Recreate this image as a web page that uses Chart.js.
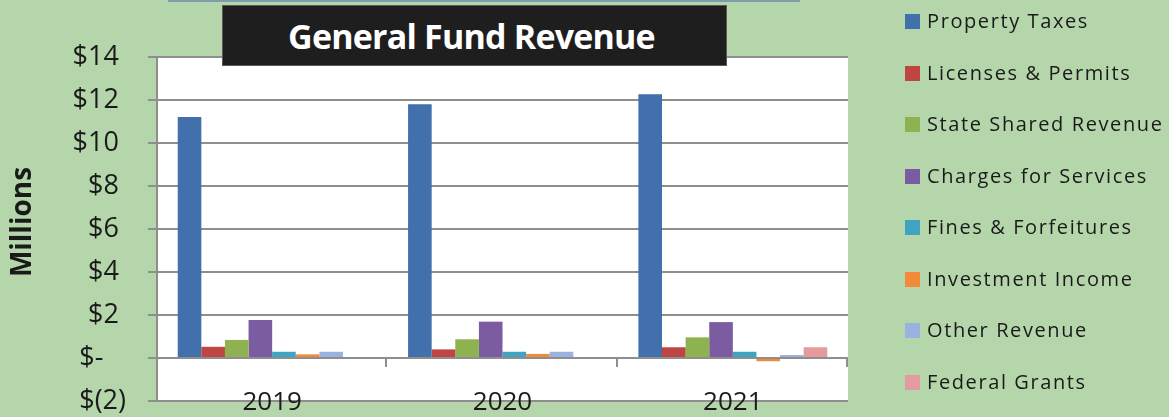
<!DOCTYPE html>
<html>
<head>
<meta charset="utf-8">
<title>General Fund Revenue</title>
<script src="https://cdn.jsdelivr.net/npm/chart.js@4/dist/chart.umd.min.js"></script>
<style>
  html, body {
    margin: 0;
    padding: 0;
    background: #b4d6aa;
    overflow: hidden;
  }
  #wrap {
    position: relative;
    width: 1169px;
    height: 417px;
  }
  #revenueChart {
    display: block;
  }
  #topRule {
    position: absolute;
    left: 168px;
    top: 0;
    width: 632px;
    height: 2px;
    background: #7f9cab;
  }
  #titleBox {
    position: absolute;
    left: 222px;
    top: 5px;
    width: 503px;
    height: 59px;
    background: #1e1e1e;
    border: 1px solid #5a5a5a;
    color: #ffffff;
    font-family: "Open Sans", sans-serif;
    font-weight: bold;
    font-size: 34px;
    letter-spacing: -0.8px;
    line-height: 60px;
    text-align: center;
    text-indent: -6px;
  }
  #legend {
    position: absolute;
    left: 905px;
    top: 0;
    margin: 0;
    padding: 0;
    list-style: none;
    font-family: "Open Sans", sans-serif;
    font-size: 20px;
    letter-spacing: 1.6px;
    color: #1a1a1a;
  }
  #legend li {
    position: absolute;
    left: 0;
    height: 22px;
    line-height: 22px;
    white-space: nowrap;
  }
  #legend span.box {
    position: absolute;
    left: 0;
    top: 4px;
    width: 15px;
    height: 15px;
  }
  #legend span.txt {
    position: absolute;
    left: 22px;
    top: 0;
  }
</style>
</head>
<body>
<div id="wrap">
  <div id="topRule"></div>
  <canvas id="revenueChart" width="1169" height="417"></canvas>
  <div id="titleBox">General Fund Revenue</div>
  <ul id="legend"></ul>
</div>
<script>
  'use strict';

  // Fiscal years on the category axis
  const years = ['2019', '2020', '2021'];

  // Revenue sources, in millions of dollars
  const seriesNames = [
    'Property Taxes',
    'Licenses & Permits',
    'State Shared Revenue',
    'Charges for Services',
    'Fines & Forfeitures',
    'Investment Income',
    'Other Revenue',
    'Federal Grants'
  ];
  const propertyTaxes = [11.21, 11.80, 12.27];
  const licensesPermits = [0.52, 0.40, 0.50];
  const stateShared = [0.84, 0.87, 0.96];
  const chargesServices = [1.77, 1.69, 1.67];
  const finesForfeitures = [0.29, 0.29, 0.29];
  const investmentIncome = [0.17, 0.19, -0.15];
  const otherRevenue = [0.29, 0.29, 0.14];
  const federalGrants = [0, 0, 0.50];

  const seriesColors = [
    '#4170ac',
    '#be4542',
    '#8db24f',
    '#7b5ca0',
    '#3fa3c1',
    '#f38a3a',
    '#9ab2e0',
    '#e49b9e'
  ];

  // Value axis ticks (millions)
  const axisMin = -2;
  const axisMax = 14;
  const axisStep = 2;

  const seriesValues = [
    propertyTaxes,
    licensesPermits,
    stateShared,
    chargesServices,
    finesForfeitures,
    investmentIncome,
    otherRevenue,
    federalGrants
  ];

  const textColor = '#1a1a1a';
  const lineColor = '#8e8e8e';

  /**
   * Excel style accounting label: $14, $-, $(2)
   */
  function accountingLabel(value) {
    if (value === 0) return '$-\u2007\u2008';
    if (value < 0) return '$(' + Math.abs(value) + ')';
    return '$' + value + '\u2008';
  }

  /**
   * White plot area behind the bars
   */
  const plotBackground = {
    id: 'plotBackground',
    beforeDraw: function(chart) {
      const area = chart.chartArea;
      const ctx = chart.ctx;
      ctx.save();
      ctx.fillStyle = '#ffffff';
      ctx.fillRect(area.left, area.top, area.right - area.left, area.bottom - area.top);
      ctx.restore();
    }
  };

  /**
   * Small tick marks on the zero line between the years
   */
  const categoryTicks = {
    id: 'categoryTicks',
    afterDatasetsDraw: function(chart) {
      const xScale = chart.scales.x;
      const yScale = chart.scales.y;
      const zero = yScale.getPixelForValue(0);
      const ctx = chart.ctx;
      const step = (xScale.right - xScale.left) / years.length;
      ctx.save();
      ctx.strokeStyle = lineColor;
      ctx.lineWidth = 2;
      ctx.beginPath();
      for (let i = 1; i <= years.length; i++) {
        const x = Math.round(xScale.left + step * i) - 1;
        ctx.moveTo(x, zero);
        ctx.lineTo(x, zero + 9);
      }
      ctx.stroke();
      ctx.restore();
    }
  };

  function buildDatasets() {
    return seriesNames.map(function(name, i) {
      return {
        label: name,
        data: seriesValues[i],
        backgroundColor: seriesColors[i],
        borderWidth: 0,
        categoryPercentage: 0.82,
        barPercentage: 1.0
      };
    });
  }

  function buildLegend() {
    const list = document.getElementById('legend');
    seriesNames.forEach(function(name, i) {
      const item = document.createElement('li');
      item.style.top = (10 + i * 51.5) + 'px';
      const box = document.createElement('span');
      box.className = 'box';
      box.style.background = seriesColors[i];
      const txt = document.createElement('span');
      txt.className = 'txt';
      txt.textContent = name;
      item.appendChild(box);
      item.appendChild(txt);
      list.appendChild(item);
    });
  }

  const ctx = document.getElementById('revenueChart').getContext('2d');

  new Chart(ctx, {
    type: 'bar',
    data: {
      labels: years,
      datasets: buildDatasets()
    },
    options: {
      responsive: false,
      devicePixelRatio: 1,
      animation: false,
      layout: {
        padding: { left: 0, top: 57, right: 321, bottom: 0 }
      },
      plugins: {
        legend: { display: false },
        title: { display: false },
        tooltip: { enabled: false }
      },
      scales: {
        x: {
          afterFit: function(scale) { scale.height = 16; },
          grid: { display: false, drawTicks: false },
          border: { display: false },
          ticks: {
            // mirrored so the year labels are not clipped and can overlap the plot edge
            mirror: true,
            color: textColor,
            padding: -17,
            maxRotation: 0,
            font: { family: 'Open Sans', size: 26 }
          }
        },
        y: {
          min: axisMin,
          max: axisMax,
          afterFit: function(scale) {
            // fixed gutter; the outer tick labels may overhang the plot
            scale.width = 157;
            scale.paddingTop = 0;
            scale.paddingBottom = 0;
          },
          grid: {
            color: lineColor,
            lineWidth: 2,
            tickLength: 9,
            drawTicks: true
          },
          border: { display: true, color: lineColor, width: 2 },
          ticks: {
            stepSize: axisStep,
            color: textColor,
            padding: 22,
            font: { family: 'Open Sans', size: 27 },
            callback: accountingLabel
          },
          title: {
            display: true,
            text: '\u2002Millions',
            color: textColor,
            padding: { top: 6, bottom: 0 },
            font: { family: 'Open Sans', size: 28, weight: 'bold' }
          }
        }
      }
    },
    plugins: [plotBackground, categoryTicks]
  });

  buildLegend();
</script>
</body>
</html>
